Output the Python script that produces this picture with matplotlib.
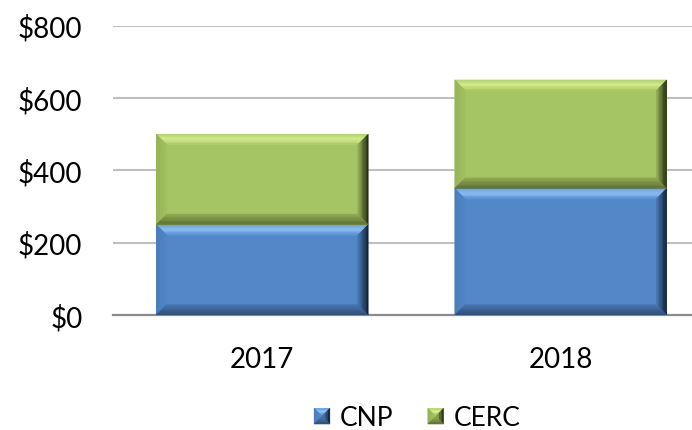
import matplotlib
matplotlib.use("Agg")
import numpy as np
import matplotlib.pyplot as plt
from matplotlib.patches import Polygon, Rectangle
from matplotlib.legend_handler import HandlerBase
from matplotlib.colors import to_rgb

years = ["2017", "2018"]
cnp = [250, 350]
cerc = [250, 300]
series_names = ["CNP", "CERC"]
yticks = [0, 200, 400, 600, 800]

# face colour, then bevel colour stops (outer edge -> inner edge) for top, left, right, bottom
BLUE = {"face": "#5287C8",
        "top": ["#6C9FDC", "#8EC1F5", "#5A8FD0"],
        "left": ["#4A7CB9", "#5086C6"],
        "right": ["#0F1A28", "#2B4A70", "#4B7BB8"],
        "bottom": ["#2C4B74", "#4876B0"]}
GREEN = {"face": "#A5C463",
         "top": ["#B3D06E", "#D6EF8F", "#ABC867"],
         "left": ["#95B256", "#A2C160"],
         "right": ["#1C240F", "#56692E", "#98B45A"],
         "bottom": ["#5A6C31", "#8FAA52"]}

plt.rcParams['font.family'] = ['Lato', 'DejaVu Sans']


def ramp(stops, t):
    stops = [np.array(to_rgb(c)) for c in stops]
    pos = np.linspace(0, 1, len(stops))
    return tuple(np.array([np.interp(t, pos, [s[i] for s in stops]) for i in range(3)]))


def bevel_sides(x0, y0, w, h, bx, by):
    x1, y1 = x0 + w, y0 + h
    # outer edge (p, q), inner edge (r, s)
    return {
        "top": ((x0, y1), (x1, y1), (x0 + bx, y1 - by), (x1 - bx, y1 - by)),
        "left": ((x0, y0), (x0, y1), (x0 + bx, y0 + by), (x0 + bx, y1 - by)),
        "right": ((x1, y0), (x1, y1), (x1 - bx, y0 + by), (x1 - bx, y1 - by)),
        "bottom": ((x0, y0), (x1, y0), (x0 + bx, y0 + by), (x1 - bx, y0 + by)),
    }


def bevel_artists(x0, y0, w, h, bx, by, cols, n=8, **kw):
    arts = [Rectangle((x0, y0), w, h, facecolor=cols["face"], edgecolor='none', **kw)]
    for side, (p, q, r, s) in bevel_sides(x0, y0, w, h, bx, by).items():
        p, q, r, s = map(np.array, (p, q, r, s))
        for k in range(n):
            t0, t1 = k / n, (k + 1) / n
            pts = [p + (r - p) * t0, q + (s - q) * t0, q + (s - q) * t1, p + (r - p) * t1]
            c = ramp(cols[side], (t0 + t1) / 2)
            arts.append(Polygon(pts, closed=True, facecolor=c, edgecolor=c, linewidth=0.3, **kw))
    return arts


class BevelHandler(HandlerBase):
    def __init__(self, cols):
        super().__init__()
        self.cols = cols

    def create_artists(self, legend, orig_handle, xdescent, ydescent, width, height, fontsize, trans):
        s = min(width, height * 1.2)
        x0 = -xdescent
        y0 = -ydescent + (height - s) / 2
        b = s * 0.45
        return bevel_artists(x0, y0, s, s, b, b, self.cols, n=3, transform=trans)


fig = plt.figure(figsize=(6.92, 4.31), dpi=100)
ax = fig.add_axes([113 / 692, 115 / 431, 597 / 692, 289.3 / 431])

x = list(range(len(years)))
b1 = ax.bar(x, cnp, width=0.71, color=BLUE["face"], zorder=2)
b2 = ax.bar(x, cerc, width=0.71, bottom=cnp, color=GREEN["face"], zorder=2)
for bars, cols in [(b1, BLUE), (b2, GREEN)]:
    for p in bars:
        for a in bevel_artists(p.get_x(), p.get_y(), p.get_width(), p.get_height(),
                               0.035, 29, cols, zorder=3):
            ax.add_patch(a)

ax.set_xlim(-0.5, 1.5)
ax.set_ylim(0, 800)
ax.set_yticks(yticks)
ax.set_yticklabels(["$" + str(v) for v in yticks])
ax.set_xticks(x)
ax.set_xticklabels(years)
ax.tick_params(axis='both', length=0, labelsize=20)
ax.tick_params(axis='y', pad=22)
ax.tick_params(axis='x', pad=22)
ax.yaxis.grid(True, color='#BFBFBF', linewidth=1.5, zorder=0)
ax.set_axisbelow(True)
for s in ['top', 'right', 'left']:
    ax.spines[s].set_visible(False)
ax.spines['bottom'].set_color('#8C8C8C')
ax.spines['bottom'].set_linewidth(1.6)

h1 = Rectangle((0, 0), 1, 1)
h2 = Rectangle((0, 0), 1, 1)
fig.legend([h1, h2], series_names, loc='center', bbox_to_anchor=(0.603, 0.028),
           ncol=2, frameon=False, fontsize=19, handlelength=0.6, handleheight=0.6,
           handletextpad=0.38, columnspacing=1.3,
           handler_map={h1: BevelHandler(BLUE), h2: BevelHandler(GREEN)})

fig.savefig("out.png", dpi=100)
